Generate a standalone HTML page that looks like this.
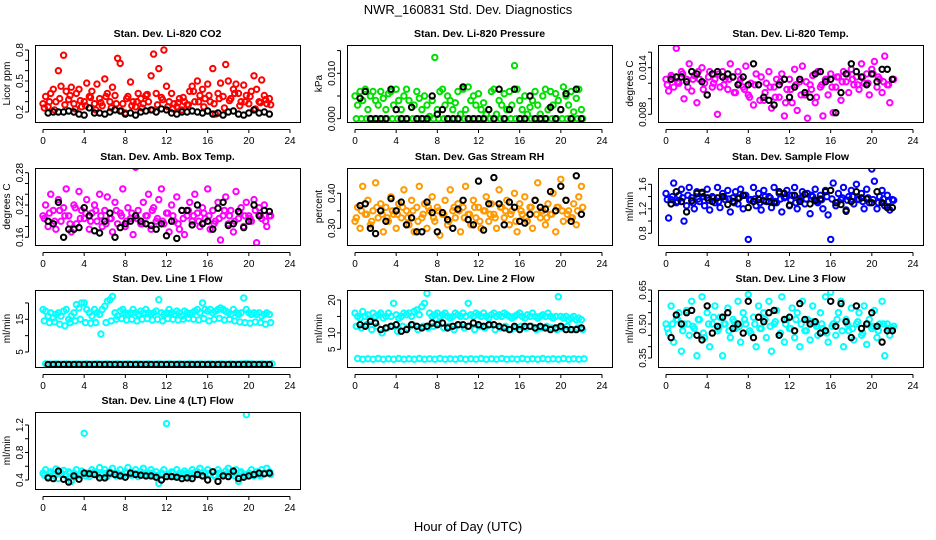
<!DOCTYPE html>
<html><head><meta charset="utf-8"><title>NWR_160831 Std. Dev. Diagnostics</title>
<style>
html,body{margin:0;padding:0;background:#fff;}
svg{display:block;font-family:"Liberation Sans",sans-serif;}
</style></head>
<body>
<svg id="chart" width="936" height="540" viewBox="0 0 936 540">
<text x="468" y="14" text-anchor="middle" font-size="13">NWR_160831  Std. Dev. Diagnostics</text>
<text x="468" y="531" text-anchor="middle" font-size="13">Hour of Day (UTC)</text>
</svg>
<script>
// ---- data ----
const xTicks = [0,4,8,12,16,20,24];
const titles = ["Stan. Dev. Li-820 CO2","Stan. Dev. Li-820 Pressure","Stan. Dev. Li-820 Temp.","Stan. Dev. Amb. Box Temp.","Stan. Dev. Gas Stream RH","Stan. Dev. Sample Flow","Stan. Dev. Line 1 Flow","Stan. Dev. Line 2 Flow","Stan. Dev. Line 3 Flow","Stan. Dev. Line 4 (LT) Flow"];
const yLabels = ["Licor ppm","kPa","degrees C","degrees C","percent","ml/min","ml/min","ml/min","ml/min","ml/min"];
const colors = ["#ff0000","#00e000","#ff00ff","#ff00ff","#ff9900","#0000ff","#00ffff","#00ffff","#00ffff","#00ffff"];

const co2A = [0.28,0.35,0.25,0.38,0.42,0.30,0.60,0.45,0.75,0.40,0.32,0.44,0.28,0.38,0.42,0.25,0.30,0.48,0.35,0.40,0.28,0.47,0.33,0.26,0.52,0.38,0.30,0.44,0.36,0.72,0.67,0.28,0.19,0.35,0.49,0.30,0.25,0.38,0.33,0.28,0.36,0.30,0.55,0.76,0.38,0.62,0.34,0.80,0.45,0.30,0.38,0.28,0.25,0.33,0.22,0.30,0.27,0.40,0.45,0.30,0.50,0.36,0.42,0.33,0.47,0.30,0.62,0.18,0.38,0.48,0.35,0.66,0.50,0.33,0.42,0.47,0.38,0.30,0.46,0.36,0.28,0.40,0.55,0.42,0.30,0.51,0.36,0.28,0.33];
const co2B = [0.24,0.30,0.22,0.33,0.27,0.36,0.23,0.31,0.26,0.34,0.22,0.29,0.35,0.24,0.28,0.21,0.33,0.26,0.30,0.24,0.37,0.22,0.27,0.32,0.25,0.23,0.29,0.34,0.27,0.40,0.30,0.25,0.36,0.28,0.33,0.24,0.31,0.38,0.26,0.30,0.35,0.23,0.29,0.32,0.27];
const co2K = [0.19,0.20,0.20,0.20,0.21,0.20,0.18,0.17,0.24,0.19,0.19,0.18,0.20,0.22,0.21,0.18,0.19,0.17,0.20,0.21,0.22,0.20,0.23,0.22,0.19,0.18,0.20,0.20,0.21,0.20,0.19,0.21,0.18,0.19,0.17,0.20,0.21,0.18,0.17,0.19,0.22,0.19,0.20,0.18];

const presA = [0.005,0.003,0.006,0.004,0.0065,0.002,0.005,0.006,0.004,0.003,0.006,0.0045,0.002,0.0055,0.006,0.003,0.0065,0.004,0.002,0.005,0.0065,0.004,0.0025,0.003,0.006,0.0045,0.002,0.005,0.003,0.0005,0.004,0.0135,0.002,0.006,0.0065,0.003,0.005,0.004,0.002,0.0035,0.006,0.001,0.0065,0.002,0.007,0.004,0.005,0.003,0.0055,0.002,0.0035,0.001,0.002,0.006,0.0065,0.001,0.004,0.003,0.0055,0.002,0.006,0.003,0.0117,0.0065,0.004,0.002,0.005,0.001,0.0025,0.004,0.006,0.003,0.001,0.005,0.0065,0.002,0.006,0.003,0.0055,0.004,0.002,0.007,0.005,0.003,0.006,0.0015,0.0045,0.0065,0.002];
const presB = [0,0,0,0,0,0,0,0,0,0,0,0,0,0,0,0,0,0,0,0,0,0,0,0,0,0,0,0,0,0,0,0,0,0,0,0,0,0,0,0,0,0,0,0,0];
const presK = [0.0045,0.006,0,0,0,0,0.0065,0.002,0,0,0.0025,0,0,0,0.005,0.001,0.002,0,0,0,0.007,0,0,0,0,0.002,0,0.0065,0,0.002,0.0065,0,0,0.005,0,0,0,0.0025,0,0.002,0.0055,0,0.0065,0];

const tempA = [0.0125,0.011,0.013,0.0115,0.0165,0.012,0.0135,0.01,0.0125,0.0145,0.011,0.013,0.0095,0.0125,0.014,0.012,0.0105,0.0135,0.0115,0.0125,0.008,0.0115,0.0135,0.0125,0.0112,0.0145,0.0128,0.0108,0.0135,0.0125,0.0115,0.0142,0.0105,0.012,0.0092,0.0132,0.0118,0.0128,0.0098,0.012,0.0135,0.0088,0.0115,0.0125,0.0102,0.0132,0.0078,0.0112,0.0125,0.0095,0.0138,0.0085,0.0122,0.0142,0.0105,0.0075,0.0118,0.013,0.0095,0.0135,0.0115,0.0078,0.0125,0.0105,0.0132,0.0082,0.0115,0.0128,0.0098,0.0135,0.0122,0.0108,0.0138,0.0118,0.0128,0.0112,0.0145,0.012,0.0132,0.0105,0.0138,0.0148,0.0115,0.0125,0.0108,0.0155,0.0118,0.0095,0.0125];
const tempB = [0.0118,0.0128,0.0122,0.0132,0.0115,0.0125,0.0135,0.0112,0.0128,0.012,0.0132,0.0118,0.0125,0.0108,0.012,0.0112,0.0102,0.0118,0.0098,0.0108,0.0115,0.0102,0.0122,0.0095,0.0112,0.0118,0.0105,0.0122,0.0112,0.0102,0.0118,0.0125,0.0115,0.0128,0.0122,0.0132,0.0125,0.0118,0.0128,0.012,0.0132,0.0128,0.0122,0.0118,0.0125];
const tempK = [0.0125,0.0128,0.0128,0.0122,0.0135,0.0132,0.0122,0.0105,0.0132,0.0135,0.0128,0.0132,0.0128,0.0118,0.0128,0.0118,0.0145,0.0118,0.0102,0.0098,0.0092,0.0118,0.0125,0.0102,0.0115,0.0125,0.0108,0.0102,0.0132,0.0135,0.0122,0.0125,0.0082,0.0108,0.0132,0.0145,0.0135,0.0128,0.0118,0.0132,0.0122,0.0138,0.0138,0.0125];

const ambA = [0.20,0.22,0.18,0.24,0.21,0.175,0.23,0.19,0.215,0.25,0.20,0.17,0.22,0.185,0.245,0.21,0.195,0.23,0.175,0.205,0.22,0.19,0.24,0.18,0.21,0.235,0.195,0.17,0.225,0.185,0.205,0.25,0.18,0.215,0.195,0.165,0.29,0.21,0.185,0.225,0.2,0.24,0.175,0.215,0.19,0.23,0.25,0.185,0.205,0.17,0.22,0.19,0.235,0.175,0.21,0.165,0.2,0.225,0.19,0.24,0.205,0.18,0.215,0.195,0.25,0.175,0.21,0.19,0.225,0.155,0.2,0.235,0.185,0.21,0.17,0.245,0.195,0.215,0.18,0.225,0.2,0.19,0.23,0.15,0.215,0.195,0.22,0.18,0.2];
const ambB = [0.195,0.205,0.19,0.21,0.2,0.185,0.215,0.195,0.205,0.19,0.21,0.2,0.185,0.195,0.21,0.2,0.19,0.205,0.195,0.185,0.2,0.21,0.195,0.19,0.205,0.2,0.185,0.195,0.21,0.2,0.19,0.205,0.2,0.185,0.195,0.21,0.2,0.19,0.205,0.2,0.195,0.21,0.2,0.19,0.2];
const ambK = [0.19,0.185,0.225,0.16,0.175,0.175,0.178,0.215,0.2,0.172,0.168,0.19,0.205,0.16,0.178,0.185,0.19,0.2,0.19,0.185,0.182,0.175,0.185,0.163,0.19,0.158,0.21,0.21,0.183,0.22,0.185,0.19,0.175,0.214,0.225,0.182,0.185,0.208,0.178,0.19,0.22,0.2,0.21,0.208];

const rhA = [0.32,0.36,0.30,0.42,0.34,0.38,0.31,0.35,0.43,0.33,0.37,0.29,0.36,0.32,0.39,0.34,0.30,0.37,0.33,0.41,0.35,0.31,0.38,0.29,0.36,0.42,0.33,0.37,0.30,0.35,0.39,0.32,0.36,0.28,0.34,0.38,0.31,0.41,0.35,0.33,0.37,0.29,0.36,0.42,0.34,0.31,0.38,0.33,0.36,0.30,0.35,0.39,0.32,0.37,0.34,0.30,0.41,0.36,0.33,0.38,0.31,0.35,0.40,0.29,0.37,0.34,0.39,0.32,0.36,0.30,0.38,0.43,0.33,0.35,0.31,0.37,0.34,0.40,0.29,0.36,0.44,0.32,0.38,0.35,0.33,0.37,0.31,0.39,0.42];
const rhB = [0.33,0.35,0.34,0.32,0.36,0.34,0.33,0.35,0.34,0.36,0.33,0.35,0.32,0.34,0.36,0.33,0.35,0.34,0.32,0.36,0.35,0.33,0.34,0.36,0.32,0.35,0.34,0.33,0.36,0.35,0.34,0.32,0.35,0.33,0.36,0.34,0.35,0.33,0.34,0.36,0.35,0.34,0.33,0.35,0.36];
const rhK = [0.365,0.37,0.30,0.285,0.35,0.32,0.385,0.35,0.375,0.31,0.33,0.29,0.29,0.375,0.345,0.29,0.345,0.325,0.30,0.355,0.38,0.325,0.31,0.435,0.295,0.37,0.445,0.37,0.31,0.375,0.36,0.32,0.315,0.34,0.38,0.36,0.355,0.405,0.35,0.42,0.38,0.32,0.45,0.34];

const flowA = [1.45,1.05,1.35,1.62,1.3,1.42,1.52,1.0,1.25,1.55,1.38,1.2,1.48,1.32,1.45,1.25,1.52,1.18,1.4,1.3,1.55,1.22,1.45,1.35,1.5,1.15,1.38,1.48,1.28,1.52,1.2,1.42,0.7,1.35,1.55,1.25,1.45,1.18,1.5,1.32,1.4,1.22,1.55,1.3,1.45,1.15,1.38,1.5,1.25,1.42,1.55,1.2,1.35,1.48,1.28,1.45,1.12,1.4,1.52,1.3,1.42,1.2,1.5,1.1,0.7,1.62,1.25,1.45,1.35,1.55,1.18,1.4,1.5,1.28,1.6,1.35,1.45,1.2,1.52,1.3,1.85,1.65,1.2,1.4,1.5,1.25,1.42,1.18,1.35];
const flowB = [1.35,1.4,1.32,1.38,1.42,1.3,1.36,1.4,1.34,1.38,1.32,1.4,1.36,1.3,1.38,1.42,1.34,1.36,1.3,1.4,1.38,1.32,1.36,1.4,1.34,1.3,1.38,1.36,1.42,1.32,1.35,1.4,1.36,1.3,1.38,1.34,1.4,1.36,1.32,1.38,1.35,1.3,1.36,1.32,1.34];
const flowK = [1.28,1.48,1.32,1.15,1.33,1.45,1.47,1.38,1.32,1.38,1.40,1.27,1.32,1.37,1.42,1.22,1.32,1.35,1.33,1.32,1.30,1.48,1.45,1.26,1.42,1.32,1.44,1.28,1.34,1.36,1.48,1.50,1.30,1.27,1.16,1.32,1.48,1.38,1.36,1.30,1.48,1.30,1.22,1.22];

const l1A = [18,17.5,16,17,15.5,16.5,17,16,17.5,18,15,16,17,19.5,18.5,20,20,18,17,16,18,17,16.5,18,19,20.5,21,22,17,16,17.5,18,17,16.5,17,18,17,16.5,17.5,17,18,17,16.5,17,17.5,21,17,16.5,17,18,17,16.5,17.5,17,16,17.5,17,16.5,17,17.5,18,17,20,18,17.5,18,17,17.5,18,18.5,18,17.5,17,16.5,18,17,16.5,17,21.5,18,17,16.5,17,16.5,17,16,16.5,17,16.5];
const l1B = [14.5,14,14.2,13.5,13,14,14.5,15,14,13.8,14,10.5,14,14.5,15,15.2,14.8,15,14.5,15,15.2,14.8,15,14.5,15.2,15,14.8,15,15.3,15,14.8,15.2,14.5,15,15.3,14.8,15,14.5,14.2,14,13.8,14.2,14,13.5,14];
const l1C = [1.4,1.3,1.4,1.3,1.4,1.3,1.4,1.3,1.4,1.3,1.4,1.3,1.4,1.3,1.4,1.3,1.4,1.3,1.4,1.3,1.4,1.3,1.4,1.3,1.4,1.3,1.4,1.3,1.4,1.3,1.4,1.3,1.4,1.3,1.4,1.3,1.4,1.3,1.4,1.5,1.4,1.3,1.4,1.3,1.4];
const l1K = [1.2,1.2,1.2,1.2,1.2,1.2,1.2,1.2,1.2,1.2,1.2,1.2,1.2,1.2,1.2,1.2,1.2,1.2,1.2,1.2,1.2,1.2,1.2,1.2,1.2,1.2,1.2,1.2,1.2,1.2,1.2,1.2,1.2,1.2,1.2,1.2,1.2,1.2,1.2,1.2,1.2,1.2,1.2,1.2];

const l2A = [16,15,14.5,16.5,15,15.5,14,16,15,15.5,16,14.5,15,16,15,19,15.5,14.5,15,16,15.5,16,15,16.5,17,15.5,18,19,22,16,15,15.5,16,15,15.5,16,15,14.5,15,16,15.5,15,16,15,19,15.5,15,16,15.5,15,16,15,14.5,15.5,16,15,15.5,15,16,15.5,15,14.5,15,15.5,16,15,14.5,15.5,15,16,15,14.5,15,15.5,15,16,15,14.5,15,21,15,14.5,15,14,14.5,15,14,14.5,14];
const l2B = [12,11.5,12.5,11,12,10,11.5,12,10.5,12,11.5,12.5,11,12,11.5,12,13,11.5,12,11,12.5,11.5,12,11,12,11.5,12.5,11,11.5,12,11,11.5,12,11.5,12,11,11.5,12,11.5,11,11.5,12,11,11.5,11];
const l2C = [2.2,2.0,2.1,2.0,2.2,2.0,2.1,2.0,2.2,2.0,2.1,2.0,2.2,2.0,2.1,2.0,2.2,2.0,2.1,2.0,2.2,2.0,2.1,2.0,2.2,2.0,2.1,2.0,2.2,2.0,2.1,2.0,2.2,2.0,2.1,2.0,2.2,2.0,2.1,2.0,2.2,2.0,2.1,2.0,2.1];
const l2K = [12.5,12,13.5,13,11,11.5,12,12.5,10.5,11,12.5,12,11.5,12,13,12.5,13,11.5,12,12.5,12.5,12,13,12.5,12,12.5,12.5,12,11.5,11,12,11,12,12,11.5,12,11.5,11,11.5,12,11,11,11,11.5];

const l3A = [0.5,0.46,0.58,0.42,0.52,0.55,0.38,0.5,0.56,0.45,0.6,0.48,0.36,0.52,0.62,0.44,0.55,0.4,0.5,0.58,0.47,0.53,0.36,0.5,0.57,0.44,0.52,0.48,0.6,0.42,0.55,0.5,0.63,0.46,0.53,0.4,0.58,0.48,0.55,0.44,0.6,0.38,0.5,0.56,0.45,0.62,0.42,0.52,0.48,0.57,0.44,0.55,0.4,0.6,0.47,0.52,0.43,0.58,0.5,0.45,0.55,0.48,0.62,0.42,0.64,0.5,0.45,0.55,0.6,0.4,0.52,0.47,0.57,0.43,0.5,0.55,0.45,0.58,0.41,0.52,0.48,0.56,0.44,0.5,0.6,0.36,0.5,0.45,0.48];
const l3B = [0.48,0.5,0.52,0.47,0.5,0.49,0.52,0.46,0.5,0.53,0.48,0.5,0.47,0.51,0.49,0.52,0.47,0.5,0.48,0.52,0.49,0.51,0.46,0.5,0.48,0.52,0.5,0.47,0.51,0.49,0.5,0.46,0.49,0.52,0.47,0.5,0.48,0.51,0.46,0.5,0.49,0.47,0.5,0.48,0.49];
const l3K = [0.44,0.54,0.5,0.55,0.56,0.45,0.43,0.58,0.46,0.49,0.53,0.55,0.48,0.5,0.46,0.6,0.44,0.53,0.51,0.55,0.56,0.45,0.52,0.53,0.47,0.59,0.52,0.5,0.51,0.46,0.47,0.6,0.49,0.59,0.51,0.44,0.58,0.48,0.5,0.55,0.49,0.42,0.47,0.47];

const l4A = [0.5,0.55,0.45,0.52,0.48,0.56,0.42,0.5,0.54,0.46,0.52,0.38,0.5,0.55,0.47,0.53,1.08,0.5,0.45,0.55,0.52,0.48,0.58,0.5,0.55,0.45,0.52,0.57,0.48,0.5,0.55,0.46,0.52,0.58,0.48,0.5,0.55,0.45,0.52,0.57,0.48,0.5,0.55,0.46,0.52,0.35,0.5,0.55,1.22,0.48,0.52,0.45,0.55,0.5,0.47,0.53,0.5,0.45,0.55,0.48,0.52,0.57,0.46,0.5,0.55,0.48,0.52,0.45,0.55,0.5,0.47,0.53,0.57,0.48,0.5,0.55,0.38,0.52,0.48,1.35,0.5,0.55,0.46,0.52,0.48,0.55,0.5,0.57,0.52];
const l4B = [0.47,0.5,0.46,0.49,0.48,0.5,0.47,0.49,0.46,0.5,0.48,0.47,0.5,0.49,0.46,0.48,0.5,0.47,0.49,0.48,0.46,0.5,0.47,0.49,0.48,0.5,0.46,0.49,0.47,0.5,0.48,0.46,0.49,0.47,0.5,0.48,0.49,0.46,0.5,0.47,0.49,0.48,0.46,0.5,0.48];
const l4K = [0.43,0.42,0.53,0.41,0.37,0.46,0.41,0.5,0.49,0.48,0.43,0.43,0.5,0.48,0.46,0.44,0.5,0.48,0.47,0.46,0.46,0.44,0.4,0.45,0.45,0.44,0.42,0.43,0.42,0.48,0.46,0.4,0.52,0.38,0.46,0.45,0.53,0.42,0.44,0.46,0.48,0.5,0.49,0.5];

const yTicks = [[0.2,0.3,0.4,0.5,0.6,0.7,0.8],[0,0.005,0.01,0.015],[0.008,0.01,0.012,0.014,0.016],[0.16,0.18,0.2,0.22,0.24,0.26,0.28],[0.3,0.35,0.4],[0.8,1.0,1.2,1.4,1.6],[5,10,15,20],[5,10,15,20],[0.35,0.4,0.45,0.5,0.55,0.6,0.65],[0.4,0.6,0.8,1.0,1.2]];
const yTickLabels = [["0.2","","","0.5","","","0.8"],["0.000","","0.010",""],["0.008","","","0.014",""],["0.16","","","0.22","","","0.28"],["0.30","","0.40"],["0.8","","1.2","","1.6"],["5","","15",""],["5","10","","20"],["0.35","","","0.50","","","0.65"],["0.4","","0.8","","1.2"]];
const seriesA = [co2A,presA,tempA,ambA,rhA,flowA,l1A,l2A,l3A,l4A];
const seriesB = [co2B,presB,tempB,ambB,rhB,flowB,l1B,l2B,l3B,l4B];
const seriesC = [null,null,null,null,null,null,l1C,l2C,null,null];
const seriesK = [co2K,presK,tempK,ambK,rhK,flowK,l1K,l2K,l3K,l4K];
const yCal = [[0.2,67,0.8,5],[0,73.7,0.01,28.3],[0.008,69.3,0.014,22.7],[0.16,69.3,0.28,4.7],[0.3,60.3,0.4,25.3],[0.8,65.3,1.6,16.3],[5,62,15,29.3],[5,59.3,20,10],[0.35,68,0.65,0],[0.4,68,1.2,13]];

const NS = "http://www.w3.org/2000/svg";
const svg = document.getElementById('chart');
const colX = [35,347,658], rowY = [45,168,290,412], W = 265, H = 77;
function mk(tag, attrs, parent){const e=document.createElementNS(NS,tag);for(const k in attrs)e.setAttribute(k,attrs[k]);parent.appendChild(e);return e;}

for (let p=0;p<10;p++){
  const bx = colX[p%3], by = rowY[Math.floor(p/3)];
  const g = mk('g',{},svg);
  
  
  const xs = v => bx + 8 + v*(247/24);
  const c = yCal[p];
  const ys = v => by + c[1] + (v-c[0])*(c[3]-c[1])/(c[2]-c[0]);
  const clip = 'clip'+p;
  const cp = mk('clipPath',{id:clip},g); mk('rect',{x:bx,y:by,width:W,height:H},cp);
  const marks = mk('g',{'clip-path':'url(#'+clip+')',fill:'none','stroke-width':2.0},g);
  
  
  const dot = (t,v,col)=>{const e=mk('circle',{cx:xs(t).toFixed(1),cy:ys(v).toFixed(1),r:2.7,stroke:col},marks);
    
    };
  seriesA[p].forEach((v,i)=>dot(i*0.25,v,colors[p]));
  seriesB[p].forEach((v,i)=>dot(0.125+i*0.5,v,colors[p]));
  if (seriesC[p]) seriesC[p].forEach((v,i)=>dot(0.25+i*0.5,v,colors[p]));
  seriesK[p].forEach((v,i)=>dot(0.5+i*0.5,v,'#000'));
  const box = mk('rect',{x:bx+0.5,y:by+0.5,width:W,height:H,fill:'none',stroke:'#000','stroke-width':1},g);
  
  
  const tt = mk('text',{x:bx+W/2,y:by-8,'text-anchor':'middle','font-size':10.5,'font-weight':'bold'},g);
  tt.textContent = titles[p];
  
  
  const yl = mk('text',{transform:'translate('+(bx-25)+','+(by+H/2)+') rotate(-90)','text-anchor':'middle','font-size':10},g);
  yl.textContent = yLabels[p];
  
  
  mk('line',{x1:xs(0),x2:xs(24),y1:by+H+7.5,y2:by+H+7.5,stroke:'#000'},g);
  xTicks.forEach(t=>{
    mk('line',{x1:xs(t),x2:xs(t),y1:by+H+7.5,y2:by+H+11,stroke:'#000'},g);
    const tl = mk('text',{x:xs(t),y:by+H+22,'text-anchor':'middle','font-size':10},g);
    tl.textContent = t;
    
    
  });
  const yt = yTicks[p];
  mk('line',{x1:bx-6.5,x2:bx-6.5,y1:ys(yt[0]),y2:ys(yt[yt.length-1]),stroke:'#000'},g);
  yt.forEach((v,i)=>{
    mk('line',{x1:bx-10,x2:bx-6.5,y1:ys(v),y2:ys(v),stroke:'#000'},g);
    if (yTickLabels[p][i]) {
      const l = mk('text',{transform:'translate('+(bx-12)+','+ys(v)+') rotate(-90)','text-anchor':'middle','font-size':10},g);
      l.textContent = yTickLabels[p][i];
      
      
    }
  });
}
</script>
</body></html>
